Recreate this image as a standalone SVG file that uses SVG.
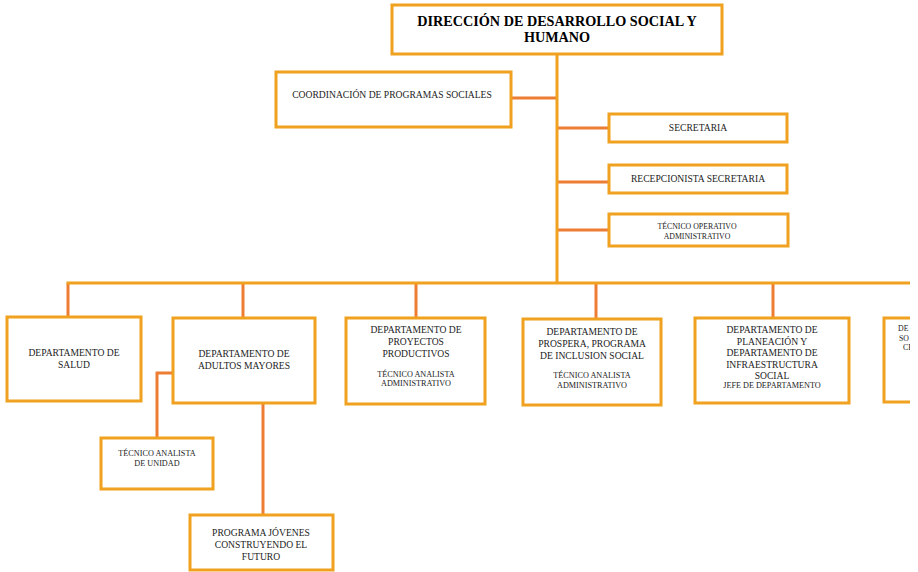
<svg xmlns="http://www.w3.org/2000/svg" width="918" height="572" viewBox="0 0 918 572">
  <style>
    .box { fill: #ffffff; stroke: #EFA11F; stroke-width: 3; }
    .trunk { stroke: #EFA11F; stroke-width: 3; fill: none; }
    .link { stroke: #EC7D33; stroke-width: 3; fill: none; }
    text { font-family: "Liberation Serif", "Times New Roman", serif; fill: #222222; text-anchor: middle; }
    .title { font-size: 14.2px; font-weight: bold; fill: #000000; }
    .m { font-size: 9.6px; }
    .s { font-size: 8.2px; }
    .xs { font-size: 7.8px; }
  </style>
  <defs>
    <clipPath id="page">
      <rect x="0" y="0" width="910" height="572"/>
    </clipPath>
  </defs>

  <g clip-path="url(#page)">
    <!-- connectors -->
    <g id="connectors">
      <line class="link" x1="511" y1="98" x2="557" y2="98"/>
      <line class="link" x1="557" y1="128" x2="609" y2="128"/>
      <line class="link" x1="557" y1="182" x2="609" y2="182"/>
      <line class="link" x1="557" y1="230" x2="609" y2="230"/>
      <line class="link" x1="68" y1="283" x2="68" y2="317"/>
      <line class="link" x1="243" y1="283" x2="243" y2="317"/>
      <line class="link" x1="416" y1="283" x2="416" y2="318"/>
      <line class="link" x1="596" y1="283" x2="596" y2="319"/>
      <line class="link" x1="773" y1="283" x2="773" y2="318"/>
      <polyline class="link" points="173,373 157,373 157,438"/>
      <line class="link" x1="263" y1="403" x2="263" y2="515"/>
      <line class="trunk" x1="557" y1="54" x2="557" y2="284"/>
      <polyline class="trunk" points="68,284.5 68,283 912,283"/>
    </g>

    <g id="direccion">
      <rect class="box" x="392" y="5" width="330" height="49"/>
      <text class="title" x="557" y="26">DIRECCIÓN DE DESARROLLO SOCIAL Y</text>
      <text class="title" x="557" y="42">HUMANO</text>
    </g>

    <g id="coordinacion">
      <rect class="box" x="276" y="72" width="235" height="55"/>
      <text class="m" x="392" y="98">COORDINACIÓN DE PROGRAMAS SOCIALES</text>
    </g>

    <g id="secretaria">
      <rect class="box" x="609" y="114" width="178" height="28"/>
      <text class="m" x="698" y="131">SECRETARIA</text>
    </g>

    <g id="recepcionista">
      <rect class="box" x="609" y="165" width="178" height="28"/>
      <text class="m" x="698" y="182">RECEPCIONISTA SECRETARIA</text>
    </g>

    <g id="tecnico-operativo">
      <rect class="box" x="609" y="214" width="179" height="32"/>
      <text class="xs" x="697" y="229">TÉCNICO OPERATIVO</text>
      <text class="xs" x="697" y="238.5">ADMINISTRATIVO</text>
    </g>

    <g id="salud">
      <rect class="box" x="7" y="317" width="134" height="84"/>
      <text class="m" x="74" y="356">DEPARTAMENTO DE</text>
      <text class="m" x="74" y="368">SALUD</text>
    </g>

    <g id="adultos-mayores">
      <rect class="box" x="173" y="318" width="142" height="85"/>
      <text class="m" x="244" y="357">DEPARTAMENTO DE</text>
      <text class="m" x="244" y="369">ADULTOS MAYORES</text>
    </g>

    <g id="proyectos-productivos">
      <rect class="box" x="346" y="318" width="139" height="86"/>
      <text class="m" x="416" y="333">DEPARTAMENTO DE</text>
      <text class="m" x="416" y="345">PROYECTOS</text>
      <text class="m" x="416" y="357">PRODUCTIVOS</text>
      <text class="s" x="416" y="377">TÉCNICO ANALISTA</text>
      <text class="s" x="416" y="386">ADMINISTRATIVO</text>
    </g>

    <g id="prospera">
      <rect class="box" x="523" y="319" width="138" height="86"/>
      <text class="m" x="592" y="335">DEPARTAMENTO DE</text>
      <text class="m" x="592" y="347">PROSPERA, PROGRAMA</text>
      <text class="m" x="592" y="359">DE INCLUSION SOCIAL</text>
      <text class="s" x="592" y="378">TÉCNICO ANALISTA</text>
      <text class="s" x="592" y="388">ADMINISTRATIVO</text>
    </g>

    <g id="planeacion">
      <rect class="box" x="695" y="318" width="154" height="85"/>
      <text class="m" x="772" y="333">DEPARTAMENTO DE</text>
      <text class="m" x="772" y="344.5">PLANEACIÓN Y</text>
      <text class="m" x="772" y="356">DEPARTAMENTO DE</text>
      <text class="m" x="772" y="367.5">INFRAESTRUCTURA</text>
      <text class="m" x="772" y="379">SOCIAL</text>
      <text class="s" x="772" y="388">JEFE DE DEPARTAMENTO</text>
    </g>

    <g id="departamento-extremo">
      <rect class="box" x="884" y="318" width="60" height="84"/>
      <text class="xs" x="898" y="331" style="text-anchor:start">DE</text>
      <text class="xs" x="899" y="340.5" style="text-anchor:start">SO</text>
      <text class="xs" x="903" y="350" style="text-anchor:start">CE</text>
    </g>

    <g id="tecnico-unidad">
      <rect class="box" x="101" y="438" width="112" height="51"/>
      <text class="s" x="157" y="456">TÉCNICO ANALISTA</text>
      <text class="s" x="157" y="466">DE UNIDAD</text>
    </g>

    <g id="jovenes">
      <rect class="box" x="190" y="515" width="143" height="55"/>
      <text class="m" x="261" y="536">PROGRAMA JÓVENES</text>
      <text class="m" x="261" y="548">CONSTRUYENDO EL</text>
      <text class="m" x="261" y="560">FUTURO</text>
    </g>
  </g>
</svg>
